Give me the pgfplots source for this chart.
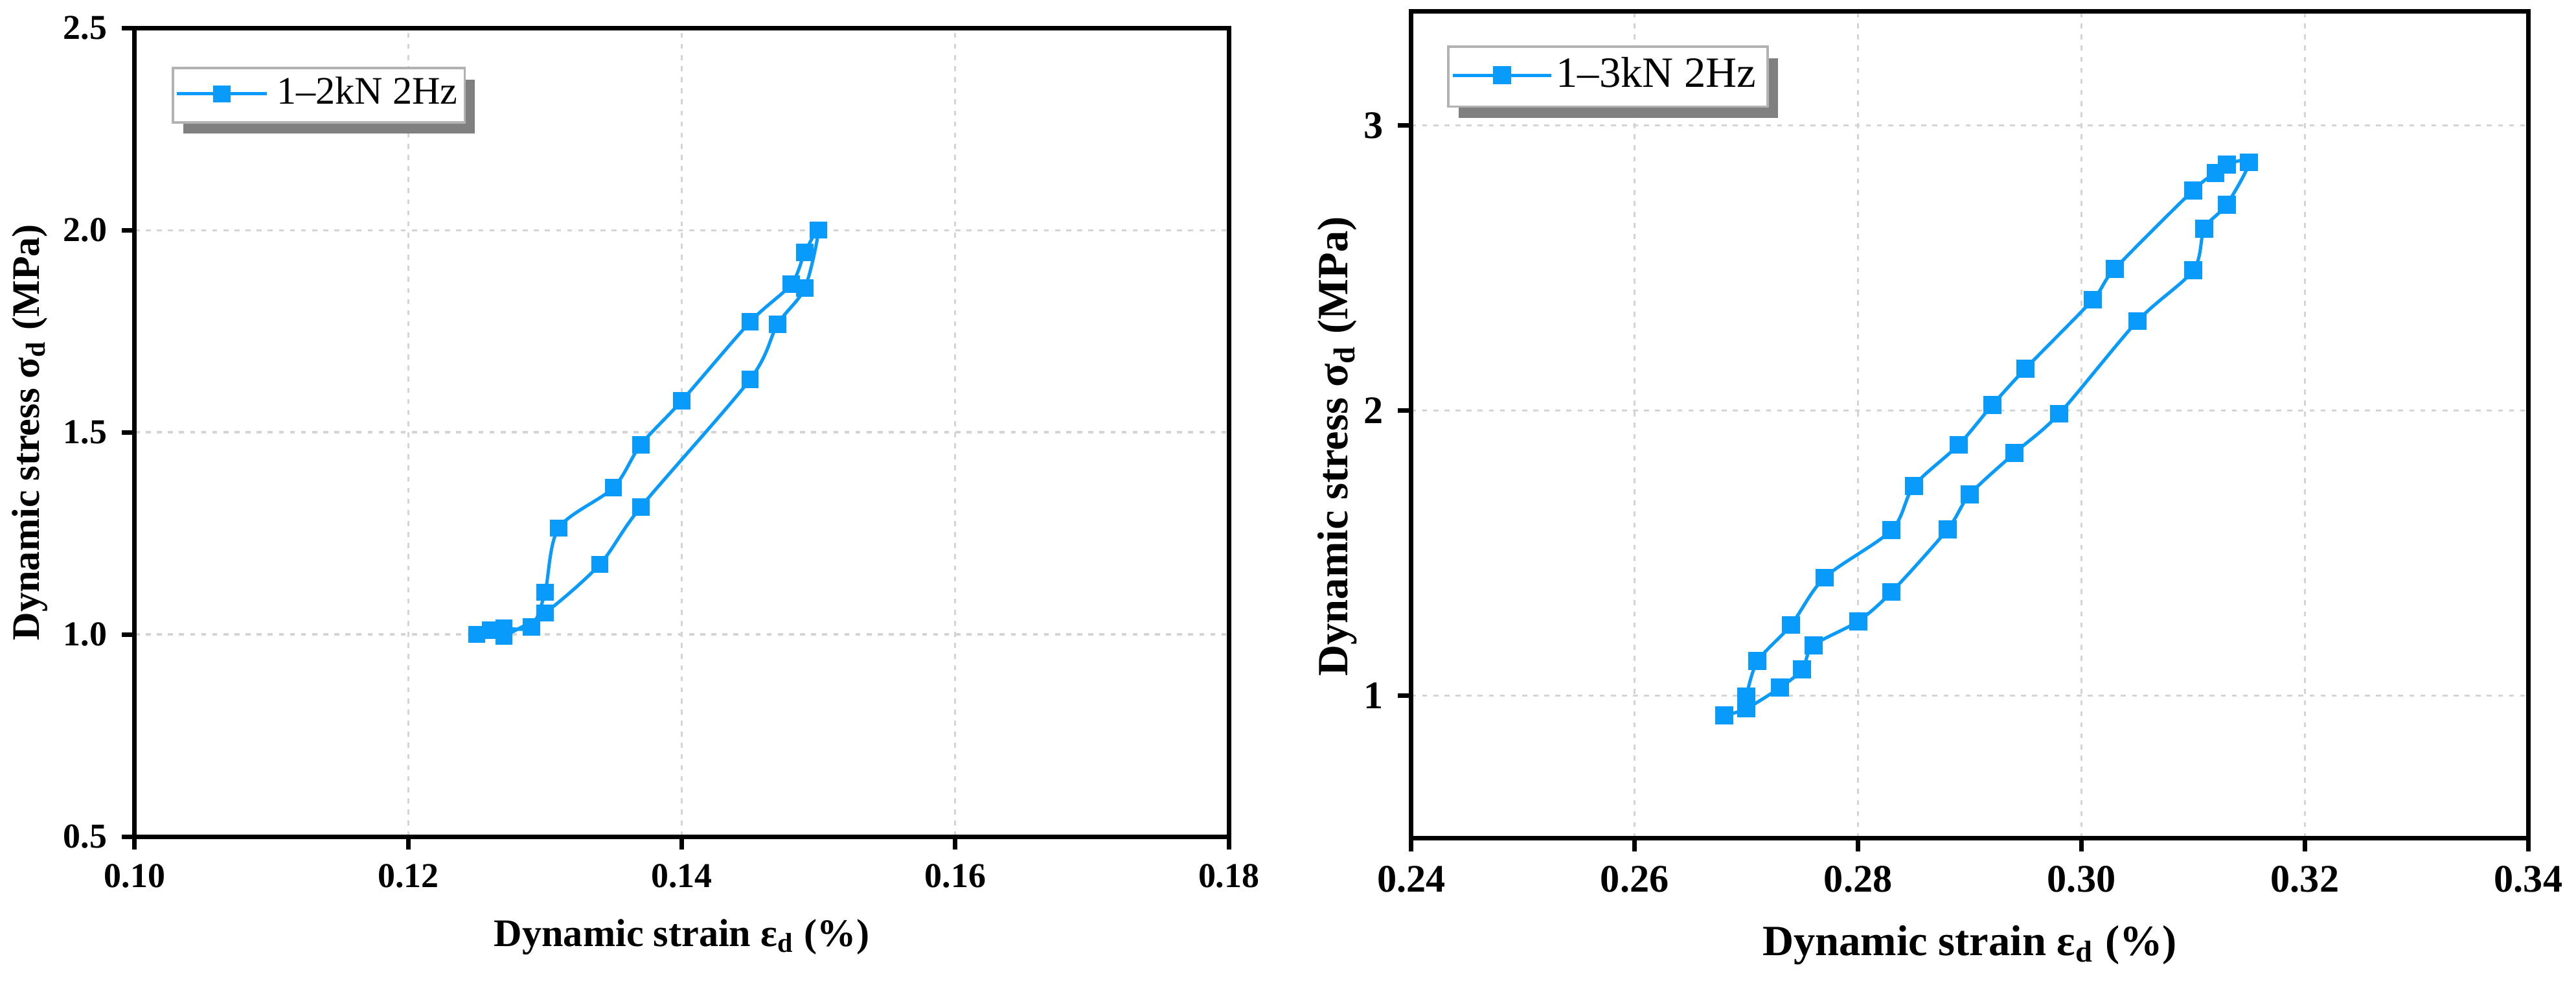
\documentclass[border=0pt]{standalone}
\usepackage{pgfplots}
\pgfplotsset{compat=1.18}
\usepackage{pgfplotstable}
\usepackage{fontspec}
\setmainfont{Liberation Serif}
\usetikzlibrary{shadows}
\definecolor{myblue}{RGB}{8,155,252}
\definecolor{gridgray}{RGB}{212,212,212}

\pgfplotstableread{
x y
0.125 1.000
0.126 1.011
0.127 1.015
0.129 1.019
0.130 1.104
0.131 1.263
0.135 1.363
0.137 1.469
0.140 1.578
0.145 1.773
0.148 1.866
0.149 1.945
0.150 2.000
0.149 1.857
0.147 1.767
0.145 1.631
0.137 1.315
0.134 1.173
0.130 1.053
0.127 0.996
}\dataA

\pgfplotstableread{
x y
0.268 0.930
0.270 0.955
0.273 1.028
0.275 1.092
0.276 1.176
0.280 1.261
0.283 1.364
0.288 1.583
0.290 1.706
0.294 1.851
0.298 1.989
0.305 2.314
0.310 2.492
0.311 2.639
0.313 2.723
0.315 2.871
0.313 2.864
0.312 2.834
0.310 2.773
0.303 2.498
0.301 2.389
0.295 2.148
0.292 2.019
0.289 1.880
0.285 1.736
0.283 1.581
0.277 1.414
0.274 1.248
0.271 1.121
0.270 0.996
}\dataB

\pgfplotsset{
  hyst/.style={
    scale only axis,
    axis line style={line width=1.1pt},
    tick align=outside, tick pos=left, major tick length=3.2pt,
    tick style={line width=1.1pt, black},
    grid=major,
    grid style={gridgray, line width=0.5pt, dash pattern=on 1.2pt off 1.5pt},
    /pgf/number format/assume math mode=true,
    legend cell align=left,
  },
}
\tikzset{
  legbox/.style={draw=gray!60, line width=0.6pt, fill=white, inner sep=0pt, anchor=north west,
    drop shadow={shadow xshift=2.5pt, shadow yshift=-2.8pt, fill=gray, opacity=1}},
}

\begin{document}
\begin{tikzpicture}
\useasboundingbox (0,0) rectangle (627.2pt,239.2pt);

\begin{axis}[hyst,
  at={(32.8pt,35.6pt)}, anchor=south west,
  width=266.4pt, height=196.8pt,
  xmin=0.10, xmax=0.18, ymin=0.5, ymax=2.5,
  xtick={0.10,0.12,0.14,0.16,0.18},
  xticklabels={0.10,0.12,0.14,0.16,0.18},
  ytick={0.5,1.0,1.5,2.0,2.5},
  yticklabels={0.5,1.0,1.5,2.0,2.5},
  ticklabel style={font=\bfseries\fontsize{8.5}{10}\selectfont},
  xlabel={Dynamic strain ε\textsubscript{d} (\%)},
  ylabel={Dynamic stress σ\textsubscript{d} (MPa)},
  label style={font=\bfseries\fontsize{9.5}{11}\selectfont},
  xlabel style={at={(axis description cs:0.5,-0.124)}, anchor=center},
  ylabel style={at={(axis description cs:-0.096,0.5)}, anchor=center},
  legend image code/.code={\draw[#1, mark=none] (0pt,0pt) -- (22pt,0pt); \draw[#1, only marks] plot coordinates {(11pt,0pt)};},
  legend style={at={(axis description cs:0.036,0.9185)}, anchor=west,
    draw=none, fill=none, inner xsep=0pt, inner ysep=0pt,
    font=\fontsize{9.5}{11}\selectfont},
]
\node[legbox, minimum width=71pt, minimum height=13.2pt] at (axis description cs:0.034,0.952) {};
\addplot[myblue, line width=0.8pt, smooth, tension=0.5, mark=square*, mark size=1.7pt,
  mark options={solid, fill=myblue, draw=myblue}] table[x=x,y=y] {\dataA};
\addlegendentry{1–2kN 2Hz}
\node[anchor=west, font=\bfseries\fontsize{9.5}{11}\selectfont] at (axis description cs:-0.0225,-0.124) {(a)};
\end{axis}

\begin{axis}[hyst,
  at={(343.6pt,35.2pt)}, anchor=south west,
  width=272pt, height=201.2pt,
  xmin=0.24, xmax=0.34, ymin=0.5, ymax=3.4,
  xtick={0.24,0.26,0.28,0.30,0.32,0.34},
  xticklabels={0.24,0.26,0.28,0.30,0.32,0.34},
  ytick={1,2,3},
  yticklabels={1,2,3},
  ticklabel style={font=\bfseries\fontsize{9.5}{11}\selectfont},
  xlabel={Dynamic strain ε\textsubscript{d} (\%)},
  ylabel={Dynamic stress σ\textsubscript{d} (MPa)},
  label style={font=\bfseries\fontsize{10.5}{12}\selectfont},
  xlabel style={at={(axis description cs:0.5,-0.129)}, anchor=center},
  ylabel style={at={(axis description cs:-0.066,0.474)}, anchor=center},
  legend image code/.code={\draw[#1, mark=none] (0pt,0pt) -- (24pt,0pt); \draw[#1, only marks] plot coordinates {(12pt,0pt)};},
  legend style={at={(axis description cs:0.035,0.9227)}, anchor=west,
    draw=none, fill=none, inner xsep=0pt, inner ysep=0pt,
    font=\fontsize{10.5}{12}\selectfont, nodes={inner xsep=0.8pt}},
]
\node[legbox, minimum width=77.8pt, minimum height=14.6pt] at (axis description cs:0.032,0.959) {};
\addplot[myblue, line width=0.8pt, smooth, tension=0.5, mark=square*, mark size=1.8pt,
  mark options={solid, fill=myblue, draw=myblue}] table[x=x,y=y] {\dataB};
\addlegendentry{1–3kN 2Hz}
\node[anchor=center, font=\bfseries\fontsize{10.5}{12}\selectfont] at (axis description cs:0.0015,-0.119) {(b)};
\end{axis}
\end{tikzpicture}
\end{document}
